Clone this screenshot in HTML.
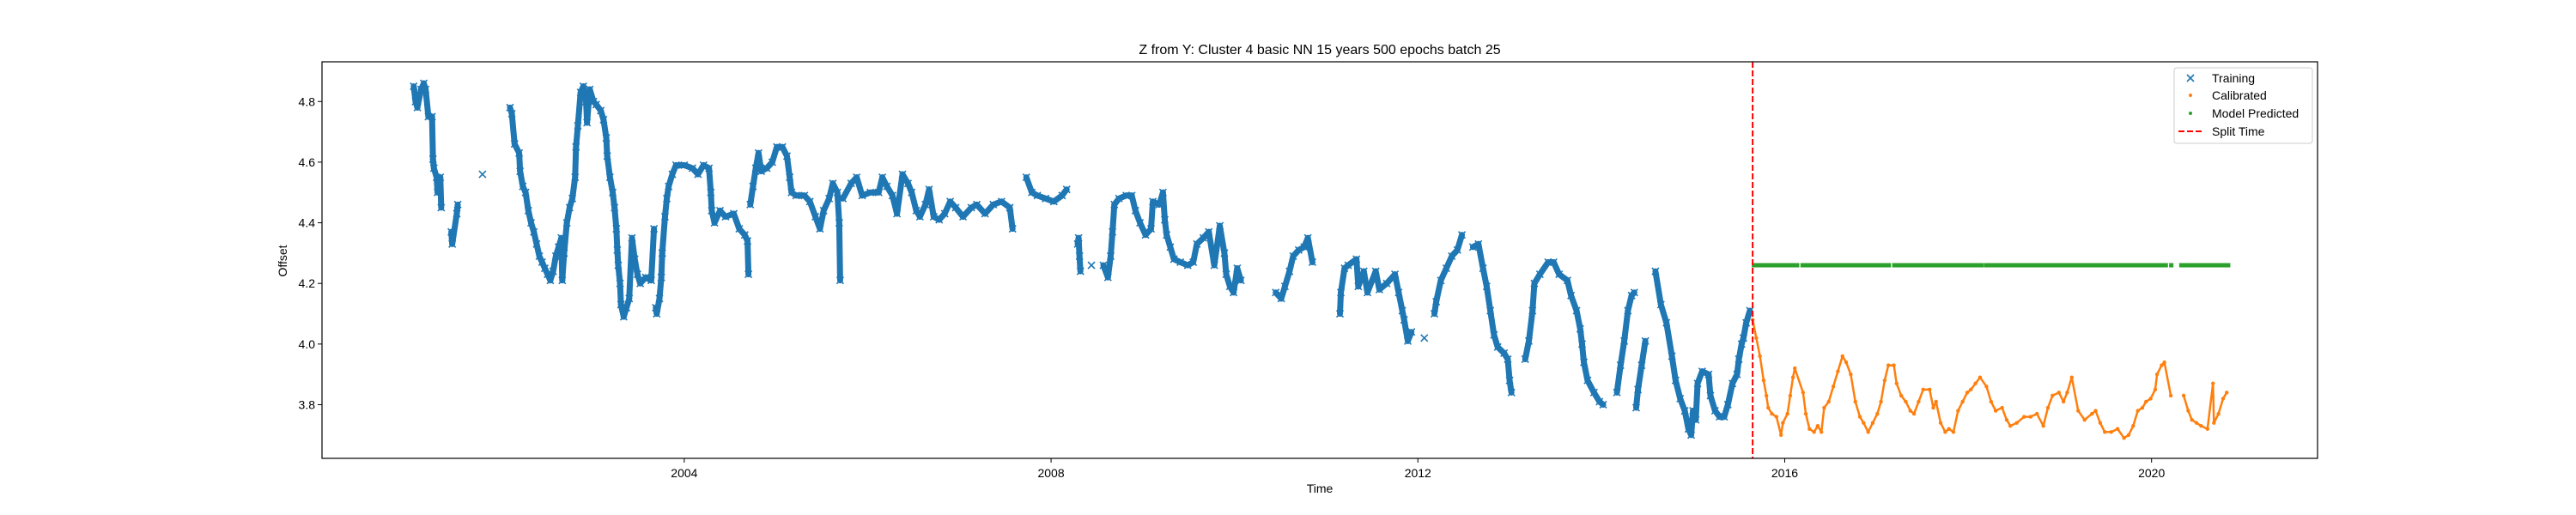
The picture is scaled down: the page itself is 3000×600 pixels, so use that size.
<!DOCTYPE html>
<html><head><meta charset="utf-8"><style>
body{margin:0;background:#fff;}
svg{display:block;font-family:"Liberation Sans","DejaVu Sans",sans-serif;}
</style></head><body>
<svg id="chart" width="3000" height="600" viewBox="0 0 3000 600" xmlns="http://www.w3.org/2000/svg">
<rect x="0" y="0" width="3000" height="600" fill="#fff"/>
<text x="1537" y="63" text-anchor="middle" font-size="16" fill="#000">Z from Y: Cluster 4 basic NN 15 years 500 epochs batch 25</text>
<g id="plot"></g>
<text x="1537" y="574" text-anchor="middle" font-size="14" fill="#000">Time</text>
<text x="0" y="0" transform="translate(334,304) rotate(-90)" text-anchor="middle" font-size="14" fill="#000">Offset</text>
</svg>
<script>
const trainX=[2001.05,2001.07,2001.09,2001.13,2001.16,2001.18,2001.21,2001.25,2001.26,2001.27,2001.30,2001.31,2001.34,2001.35,2001.46,2001.47,2001.52,2001.53,2001.80,
2002.10,2002.12,2002.15,2002.20,2002.21,2002.24,2002.27,2002.30,2002.33,2002.36,2002.39,2002.42,2002.45,2002.48,2002.51,2002.54,2002.57,2002.60,2002.63,2002.66,2002.67,2002.69,2002.72,2002.75,2002.78,2002.81,2002.82,2002.84,2002.87,2002.90,2002.93,2002.94,2002.97,2003.01,2003.04,2003.09,2003.12,2003.15,2003.16,2003.19,2003.22,2003.24,2003.26,2003.27,2003.28,2003.30,2003.31,2003.34,2003.37,2003.40,2003.43,2003.46,2003.49,2003.52,2003.58,2003.64,2003.67,2003.69,2003.70,2003.73,2003.75,2003.76,2003.79,2003.81,2003.83,2003.87,2003.91,2004.00,2004.09,2004.15,2004.21,2004.27,2004.29,2004.30,2004.33,2004.39,2004.45,2004.54,2004.60,2004.66,2004.69,2004.70,2004.72,2004.75,2004.78,2004.81,2004.84,2004.90,2004.96,2005.01,2005.07,2005.12,2005.15,2005.17,2005.22,2005.31,2005.37,2005.43,2005.48,2005.52,2005.58,2005.62,2005.67,2005.69,2005.70,2005.73,2005.82,2005.88,2005.94,2006.03,2006.12,2006.16,2006.21,2006.27,2006.32,2006.38,2006.44,2006.48,2006.53,2006.57,2006.63,2006.67,2006.72,2006.78,2006.84,2006.90,2006.96,2007.04,2007.13,2007.19,2007.28,2007.37,2007.46,2007.55,2007.58,2007.73,2007.79,2007.85,2007.94,2008.03,2008.12,2008.17,2008.29,
2008.30,2008.31,2008.32,2008.44,2008.57,2008.62,2008.65,2008.67,2008.69,2008.74,2008.82,2008.88,2008.92,2008.97,2009.03,2009.09,2009.11,2009.18,2009.22,2009.24,2009.26,2009.30,2009.34,2009.41,2009.49,2009.55,2009.59,2009.66,2009.72,2009.78,2009.84,2009.89,2009.91,2009.95,2009.99,2010.03,2010.07,
2010.45,2010.51,2010.55,2010.60,2010.64,2010.70,2010.76,2010.80,2010.85,
2011.15,2011.16,2011.20,2011.24,2011.33,2011.35,2011.41,2011.45,2011.54,2011.58,2011.66,2011.75,2011.79,2011.83,2011.85,2011.89,2011.93,2012.07,2012.18,2012.20,2012.25,2012.31,2012.37,2012.43,2012.48,2012.60,2012.66,2012.71,2012.75,2012.79,2012.83,2012.87,2012.94,2012.98,2013.00,2013.02,2013.17,2013.21,2013.25,2013.27,2013.33,2013.42,2013.48,2013.54,2013.63,2013.67,2013.73,2013.77,2013.79,2013.81,2013.85,2013.92,2013.98,2014.02,2014.17,2014.21,2014.25,2014.29,2014.33,2014.36,2014.38,2014.40,2014.44,2014.48,2014.59,2014.65,2014.71,2014.77,
2014.81,2014.86,2014.91,2014.95,2014.98,2015.00,2015.03,2015.05,2015.10,2015.17,2015.19,2015.24,2015.29,2015.34,2015.38,2015.43,2015.48,2015.50,2015.53,2015.55,2015.58,2015.62];
const trainY=[4.85,4.80,4.78,4.84,4.86,4.84,4.75,4.75,4.61,4.58,4.55,4.50,4.55,4.45,4.37,4.33,4.43,4.46,4.56,
4.78,4.76,4.66,4.63,4.57,4.52,4.50,4.44,4.40,4.37,4.33,4.29,4.27,4.25,4.23,4.21,4.24,4.29,4.32,4.35,4.21,4.30,4.40,4.45,4.48,4.55,4.65,4.72,4.83,4.85,4.80,4.73,4.84,4.80,4.79,4.77,4.74,4.68,4.62,4.55,4.50,4.45,4.38,4.31,4.26,4.20,4.13,4.09,4.12,4.15,4.35,4.28,4.23,4.20,4.22,4.21,4.38,4.12,4.10,4.15,4.22,4.30,4.42,4.48,4.52,4.56,4.59,4.59,4.58,4.56,4.59,4.58,4.50,4.44,4.40,4.44,4.42,4.43,4.38,4.36,4.34,4.23,4.46,4.52,4.58,4.63,4.57,4.58,4.60,4.65,4.65,4.62,4.55,4.50,4.49,4.49,4.47,4.42,4.38,4.44,4.48,4.53,4.50,4.40,4.21,4.48,4.53,4.55,4.49,4.50,4.50,4.55,4.52,4.49,4.43,4.56,4.53,4.50,4.44,4.42,4.46,4.51,4.42,4.41,4.43,4.47,4.45,4.42,4.45,4.46,4.43,4.46,4.47,4.45,4.38,4.55,4.50,4.49,4.48,4.47,4.49,4.51,4.33,
4.35,4.29,4.24,4.26,4.26,4.22,4.29,4.37,4.46,4.48,4.49,4.49,4.44,4.40,4.36,4.38,4.47,4.46,4.50,4.41,4.36,4.32,4.28,4.27,4.26,4.27,4.33,4.35,4.37,4.26,4.39,4.30,4.23,4.19,4.17,4.25,4.21,
4.17,4.15,4.19,4.24,4.29,4.31,4.32,4.35,4.27,
4.10,4.17,4.25,4.26,4.28,4.19,4.24,4.17,4.24,4.18,4.20,4.23,4.17,4.11,4.08,4.01,4.04,4.02,4.10,4.14,4.21,4.25,4.29,4.31,4.36,4.32,4.33,4.25,4.19,4.11,4.03,3.99,3.97,3.95,3.88,3.84,3.95,4.01,4.11,4.20,4.23,4.27,4.27,4.23,4.21,4.16,4.11,4.05,4.00,3.94,3.88,3.84,3.81,3.80,3.84,3.93,4.01,4.11,4.16,4.17,3.79,3.85,3.93,4.01,4.24,4.13,4.07,3.96,
3.88,3.82,3.78,3.72,3.70,3.78,3.75,3.87,3.91,3.90,3.83,3.78,3.76,3.76,3.80,3.87,3.90,3.95,4.00,4.02,4.07,4.11];
const calX=[2015.65,2015.69,2015.73,2015.77,2015.80,2015.82,2015.86,2015.91,2015.96,2015.98,2016.03,2016.06,2016.09,2016.11,2016.20,2016.23,2016.27,2016.32,2016.36,2016.40,2016.43,2016.48,2016.53,2016.58,2016.63,2016.67,2016.72,2016.77,2016.82,2016.86,2016.91,2016.96,2017.01,2017.05,2017.09,2017.13,2017.19,2017.22,2017.27,2017.32,2017.37,2017.41,2017.46,2017.51,2017.58,2017.62,2017.65,2017.70,2017.75,2017.79,2017.84,2017.89,2017.94,2017.99,2018.03,2018.08,2018.13,2018.20,2018.25,2018.30,2018.37,2018.42,2018.46,2018.53,2018.61,2018.68,2018.75,2018.82,2018.87,2018.92,2018.99,2019.04,2019.08,2019.13,2019.20,2019.27,2019.35,2019.39,2019.44,2019.49,2019.56,2019.63,2019.70,2019.75,2019.80,2019.85,2019.90,2019.94,2019.99,2020.04,2020.06,2020.11,2020.14,2020.21,2020.35,2020.40,2020.44,2020.49,2020.54,2020.61,2020.67,2020.68,2020.73,2020.78,2020.82];
const calY=[4.08,4.02,3.96,3.88,3.83,3.79,3.77,3.76,3.70,3.74,3.77,3.83,3.89,3.92,3.84,3.77,3.72,3.71,3.73,3.71,3.79,3.81,3.86,3.91,3.96,3.94,3.90,3.81,3.76,3.74,3.71,3.74,3.77,3.81,3.88,3.93,3.93,3.87,3.83,3.81,3.78,3.77,3.81,3.85,3.85,3.79,3.81,3.74,3.71,3.72,3.71,3.78,3.81,3.84,3.85,3.87,3.89,3.86,3.81,3.78,3.79,3.75,3.73,3.74,3.76,3.76,3.77,3.73,3.79,3.83,3.84,3.81,3.84,3.89,3.78,3.75,3.77,3.78,3.74,3.71,3.71,3.72,3.69,3.70,3.73,3.78,3.79,3.81,3.82,3.85,3.90,3.93,3.94,3.83,3.83,3.78,3.75,3.74,3.73,3.72,3.87,3.74,3.77,3.82,3.84];
const predStart=[2015.66,2016.19,2016.67,2017.19,2018.19,2019.19,2020.21,2020.32];
const predEnd=[2016.14,2016.66,2017.14,2018.15,2019.16,2020.16,2020.22,2020.84];
const predY=[4.26,4.26,4.26,4.26,4.26,4.26,4.26,4.26];
const splitTime=[2015.65];
const yTicks=[3.8,4.0,4.2,4.4,4.6,4.8];
const yTickLabels=["3.8","4.0","4.2","4.4","4.6","4.8"];
const xTicks=[2004,2008,2012,2016,2020];
const xTickLabels=["2004","2008","2012","2016","2020"];

const L=375,R=2699,T=72,B=534;
const X0=2000.05,X1=2021.81,Y0=3.623,Y1=4.931;
const sx=v=>L+(v-X0)/(X1-X0)*(R-L);
const sy=v=>B-(v-Y0)/(Y1-Y0)*(B-T);
const NS="http://www.w3.org/2000/svg";
const plot=document.getElementById('plot');
function mk(tag,attrs,parent){const e=document.createElementNS(NS,tag);for(const k in attrs)e.setAttribute(k,attrs[k]);(parent||plot).appendChild(e);return e;}

function connectors(xs,ys,gap,dy,color,w,name){
 const g=mk('g',{stroke:color,'stroke-width':w,'stroke-linecap':'round',fill:'none'});
 
 
 for(let i=1;i<xs.length;i++){
  if(xs[i]-xs[i-1]<gap && Math.abs(ys[i]-ys[i-1])<dy){
   mk('line',{x1:sx(xs[i-1]),y1:sy(ys[i-1]),x2:sx(xs[i]),y2:sy(ys[i])},g);
  }
 }
}
connectors(trainX,trainY,0.1,0.2,'#1f77b4',7,'training-density');
connectors(calX,calY,0.1,0.2,'#ff7f0e',2.5,'calibrated-density');

const gT=mk('g',{stroke:'#1f77b4','stroke-width':1.6,fill:'none'});


trainX.forEach((t,i)=>{const x=sx(t),y=sy(trainY[i]),s=4;
 const p=mk('path',{d:`M${x-s},${y-s}L${x+s},${y+s}M${x-s},${y+s}L${x+s},${y-s}`},gT);
 
 
});
const gC=mk('g',{fill:'#ff7f0e'});


calX.forEach((t,i)=>{
 const c=mk('circle',{cx:sx(t),cy:sy(calY[i]),r:2.2},gC);
 
 
});
const gP=mk('g',{fill:'#2ca02c'});


predStart.forEach((t,i)=>{
 const x0=sx(t),x1=sx(predEnd[i]);
 const r=mk('rect',{x:x0-2,y:sy(predY[i])-2.5,width:Math.max(4,x1-x0+4),height:5},gP);
 
 
});
const sl=mk('line',{x1:sx(splitTime[0]),x2:sx(splitTime[0]),y1:T,y2:B,stroke:'#ff0000','stroke-width':2,'stroke-dasharray':'7,3'});


const fr=mk('rect',{x:L,y:T,width:R-L,height:B-T,fill:'none',stroke:'#000','stroke-width':1.2});


yTicks.forEach((v,i)=>{const y=sy(v);
 const tl=mk('line',{x1:L-5,x2:L,y1:y,y2:y,stroke:'#000','stroke-width':1});
 
 
 const tx=mk('text',{x:L-8,y:y+5,'text-anchor':'end','font-size':14,fill:'#000'});
 tx.textContent=yTickLabels[i];
 
 
});
xTicks.forEach((v,i)=>{const x=sx(v);
 const tl=mk('line',{x1:x,x2:x,y1:B,y2:B+5,stroke:'#000','stroke-width':1});
 
 
 const tx=mk('text',{x:x,y:B+22,'text-anchor':'middle','font-size':14,fill:'#000'});
 tx.textContent=xTickLabels[i];
 
 
});
const lg=mk('g',{});


mk('rect',{x:2532,y:79,width:161,height:88,rx:3,fill:'#fff',stroke:'#ccc','stroke-width':1},lg);
const ent=[['Training',91],['Calibrated',111],['Model Predicted',132],['Split Time',153]];
ent.forEach((e,i)=>{const y=e[1];
 const g=mk('g',{},lg);
 
 
 if(i==0)mk('path',{d:`M${2547},${y-4}L${2555},${y+4}M${2547},${y+4}L${2555},${y-4}`,stroke:'#1f77b4','stroke-width':1.6},g);
 if(i==1)mk('circle',{cx:2551,cy:y,r:2,fill:'#ff7f0e'},g);
 if(i==2)mk('circle',{cx:2551,cy:y,r:2,fill:'#2ca02c'},g);
 if(i==3)mk('line',{x1:2537,x2:2565,y1:y,y2:y,stroke:'#ff0000','stroke-width':2,'stroke-dasharray':'7,3'},g);
 const t=mk('text',{x:2576,y:y+5,'font-size':14,fill:'#000'},g);
 t.textContent=e[0];
});
</script>
</body></html>
